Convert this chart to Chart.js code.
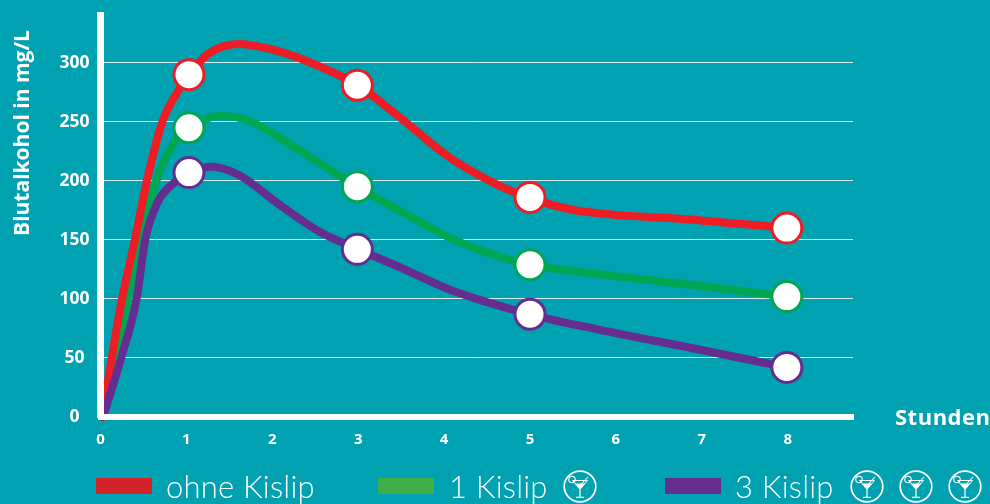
<!DOCTYPE html>
<html><head><meta charset="utf-8">
<script src="https://cdn.jsdelivr.net/npm/chart.js@4"></script>
<style>
html,body{margin:0;padding:0;background:#00A1B0;width:990px;height:504px;overflow:hidden;font-family:Lato,sans-serif}
#wrap{position:relative;width:990px;height:504px}
canvas{position:absolute;left:0;top:0}
#ax{position:absolute;left:97px;top:12px;width:7px;height:12px;background:#fff}
.sw{position:absolute;top:478px;width:56px;height:16px}
.lt{position:absolute;top:468px;font-size:31px;line-height:36px;font-weight:300;color:#fff;white-space:nowrap;letter-spacing:.2px}
.ic{position:absolute;top:470px;width:34px;height:33px}
#st{position:absolute;left:895px;top:403px;font-size:22px;line-height:26px;font-weight:700;color:#fff;letter-spacing:.5px;font-family:"Open Sans",sans-serif}
#yt{position:absolute;left:21px;top:133px;width:240px;height:26px;margin:-13px 0 0 -120px;text-align:center;transform:rotate(-90deg);font-size:21px;line-height:26px;font-weight:700;color:#fff;white-space:nowrap;font-family:"Open Sans",sans-serif}
</style></head><body>
<div id="wrap">
<canvas id="c" width="990" height="504"></canvas>
<div id="ax"></div>
<div id="st">Stunden</div>
<div id="yt">Blutalkohol in mg/L</div>
<div class="sw" style="left:96px;background:#D2232A"></div><div class="lt" style="left:166px">ohne Kislip</div>
<div class="sw" style="left:378px;background:#3FAE49"></div><div class="lt" style="left:449px">1 Kislip</div>
<div class="sw" style="left:665px;background:#662D91"></div><div class="lt" style="left:735px">3 Kislip</div>
<svg class="ic" style="left:563px" viewBox="0 0 34 33"><use href="#g"/></svg>
<svg class="ic" style="left:850px" viewBox="0 0 34 33"><use href="#g"/></svg>
<svg class="ic" style="left:899px" viewBox="0 0 34 33"><use href="#g"/></svg>
<svg class="ic" style="left:948px" viewBox="0 0 34 33"><use href="#g"/></svg>
<svg width="0" height="0" style="position:absolute"><defs><g id="g" fill="none" stroke="#fff">
<ellipse cx="17" cy="16.5" rx="15.8" ry="15.3" stroke-width="1.7"/>
<path d="M9.5 10.5H24.5L17 19.5Z" stroke-width="1"/>
<path d="M12 13.5H22L17 19.5Z" fill="#fff" stroke="none"/>
<path d="M17 19.5V27M13 27.3H21" stroke-width="1.2"/>
<path d="M18.5 14L25 7" stroke-width="1.1"/>
<circle cx="9" cy="9.5" r="3.2" stroke-width="1.1"/>
</g></defs></svg>
</div>
<script>
const xTicks = [0,1,2,3,4,5,6,7,8];
const yTicks = [0,50,100,150,200,250,300];
const yTop = 335;
const labelOhne = 'ohne Kislip', labelEins = '1 Kislip', labelDrei = '3 Kislip';

const ohneCurve = [[0.02,0],[0.13,50],[0.25,100],[0.40,150],[0.54,200],[0.72,250],[0.91,277],[1.03,290],[1.26,308],[1.61,316],[1.96,312],[2.31,304],[2.99,281],[3.48,254],[4.06,220],[4.64,196],[5.0,185.6],[5.46,176],[6.04,171],[6.74,168],[7.99,160]];
const einsCurve = [[0.02,0],[0.17,50],[0.32,100],[0.47,150],[0.65,200],[0.88,235],[1.03,245],[1.38,255],[1.73,251],[2.31,226],[2.99,195],[3.48,175],[4.06,152],[4.64,136],[5.0,129],[5.8,121],[6.98,111],[7.99,102]];
const dreiCurve = [[0.03,0],[0.24,50],[0.42,100],[0.52,150],[0.66,181],[0.85,198],[1.03,207],[1.29,212],[1.61,205],[2.08,180],[2.55,157],[3.0,142],[3.48,127],[4.06,108],[5.0,87],[5.8,74],[6.98,57],[7.99,42]];
const ohneMarks = [[1.03,290],[2.99,281],[5.0,186],[7.99,160]];
const einsMarks = [[1.03,245],[2.99,195],[5.0,129],[7.99,102]];
const dreiMarks = [[1.03,207],[2.99,142],[5.0,87],[7.99,42]];

const colOhne='#EE1C25', colEins='#00A651', colDrei='#662D91';
const xy = a => a.map(p => ({x:p[0], y:p[1]}));
const curve = (label,d,c,order) => ({label,data:xy(d),borderColor:c,borderWidth:8,pointRadius:0,cubicInterpolationMode:'monotone',fill:false,order,borderCapStyle:'round',showLine:true,clip:false});
const marks = (label,d,c,order) => ({label,data:xy(d),showLine:false,pointRadius:15,pointBorderWidth:3,pointBorderColor:c,pointBackgroundColor:'#fff',order});
Chart.defaults.font.family='"Open Sans", sans-serif';
new Chart(document.getElementById('c'),{
 type:'scatter',
 data:{datasets:[
  marks(labelDrei,dreiMarks,colDrei,1),marks(labelEins,einsMarks,colEins,2),marks(labelOhne,ohneMarks,colOhne,3),
  curve(labelDrei,dreiCurve,colDrei,4),curve(labelOhne,ohneCurve,colOhne,5),curve(labelEins,einsCurve,colEins,6)
 ]},
 options:{
  responsive:false,animation:false,
  layout:{autoPadding:false,padding:{left:0,top:12,right:137,bottom:0}},
  plugins:{legend:{display:false},tooltip:{enabled:false}},
  scales:{
   x:{type:'linear',min:0,max:8.76,
    afterFit:s=>{s.height=87},
    afterBuildTicks:s=>{s.ticks=xTicks.map(v=>({value:v}))},
    grid:{display:false,drawTicks:false},
    border:{display:true,color:'#fff',width:6,z:2},
    ticks:{color:'#fff',font:{size:15,weight:'bold'},padding:14,maxRotation:0,autoSkip:false}},
   y:{type:'linear',min:0,max:yTop,
    afterFit:s=>{s.width=100.5},
    afterBuildTicks:s=>{s.ticks=yTicks.map(v=>({value:v}))},
    grid:{color:c=>c.tick.value===0?'rgba(0,0,0,0)':'rgba(255,255,255,.85)',lineWidth:1,drawTicks:false},
    border:{display:true,color:'#fff',width:7,z:2},
    ticks:{color:'#fff',font:{size:17.5,weight:'bold'},padding:11,crossAlign:'center',autoSkip:false}}
  }
 }
});
</script></body></html>
